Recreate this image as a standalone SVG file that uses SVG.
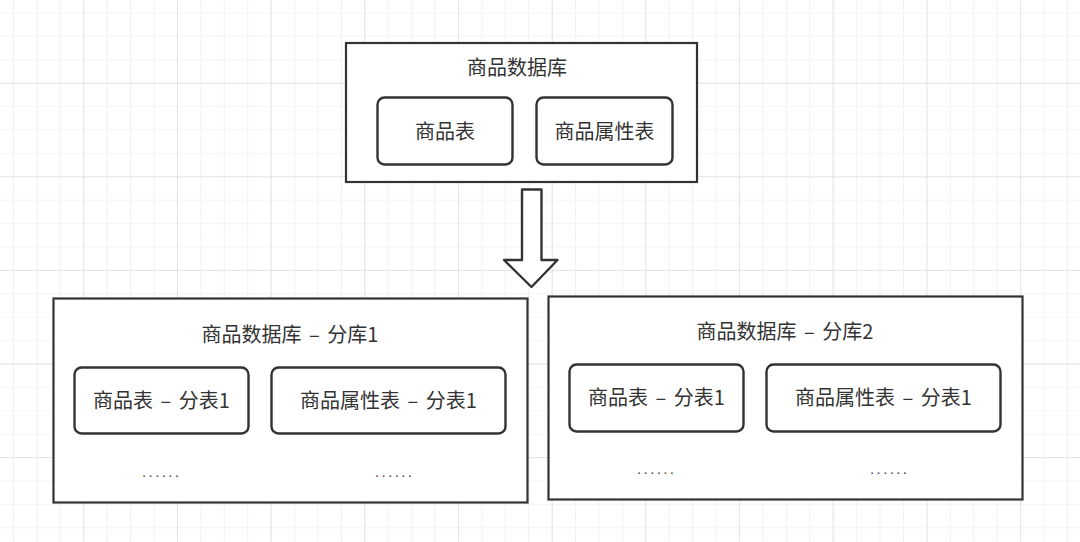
<svg xmlns="http://www.w3.org/2000/svg" width="1080" height="542" viewBox="0 0 1080 542">
<defs>
<pattern id="grid" x="13" y="12.5" width="23.42" height="23.4" patternUnits="userSpaceOnUse">
<path d="M0 0V23.4M0 0H23.42" fill="none" stroke="#e9e9e9" stroke-width="1.2"/>
</pattern>
<pattern id="gridMajor" x="83.3" y="82.7" width="93.68" height="93.6" patternUnits="userSpaceOnUse">
<path d="M0 0V93.6M0 0H93.68" fill="none" stroke="#dedede" stroke-width="1.4"/>
</pattern>
</defs>
<style>
.db{fill:#fff;stroke:#333;stroke-width:2.2}
.tb{fill:#fff;stroke:#333;stroke-width:2.4}
.t{font-family:"Noto Sans CJK SC","Noto Sans",sans-serif;font-size:20px;fill:#333;text-anchor:middle;word-spacing:3px}
.d{font-family:"Liberation Sans",sans-serif;font-size:15px;fill:#444;letter-spacing:2.4px}
</style>
<rect width="1080" height="542" fill="#fff"/>
<rect width="1080" height="542" fill="url(#grid)"/>
<rect width="1080" height="542" fill="url(#gridMajor)"/>

<g id="db-main">
<rect class="db" x="346" y="43" width="351" height="139"/>
<text class="t" x="517" y="75">商品数据库</text>
</g>
<g id="tbl-goods">
<rect class="tb" x="377.5" y="97.5" width="135" height="67" rx="7"/>
<text class="t" x="445" y="139">商品表</text>
</g>
<g id="tbl-attr">
<rect class="tb" x="536.5" y="97.5" width="136" height="67" rx="7"/>
<text class="t" x="604.5" y="139">商品属性表</text>
</g>

<g id="connectors">
<path d="M522 189.5H541.5V260H557.5L531.5 287L504 260H522Z" fill="#fff" stroke="#333" stroke-width="2.4" stroke-linejoin="round"/>
</g>

<g id="db-shard1">
<rect class="db" x="53.5" y="298.5" width="474" height="204"/>
<text class="t" x="290" y="342">商品数据库 – 分库1</text>
<text class="d" x="142" y="477">......</text>
<text class="d" x="375" y="477">......</text>
</g>
<g id="s1-goods">
<rect class="tb" x="74.5" y="367.5" width="174" height="66" rx="7"/>
<text class="t" x="161.5" y="408">商品表 – 分表1</text>
</g>
<g id="s1-attr">
<rect class="tb" x="271.5" y="367.5" width="234" height="66" rx="7"/>
<text class="t" x="388.5" y="408">商品属性表 – 分表1</text>
</g>

<g id="db-shard2">
<rect class="db" x="548.5" y="296.5" width="474" height="203"/>
<text class="t" x="785" y="339">商品数据库 – 分库2</text>
<text class="d" x="637" y="474">......</text>
<text class="d" x="870" y="474">......</text>
</g>
<g id="s2-goods">
<rect class="tb" x="569.5" y="364.5" width="174" height="67" rx="7"/>
<text class="t" x="656.5" y="405">商品表 – 分表1</text>
</g>
<g id="s2-attr">
<rect class="tb" x="766.5" y="364.5" width="234" height="67" rx="7"/>
<text class="t" x="883.5" y="405">商品属性表 – 分表1</text>
</g>
</svg>
